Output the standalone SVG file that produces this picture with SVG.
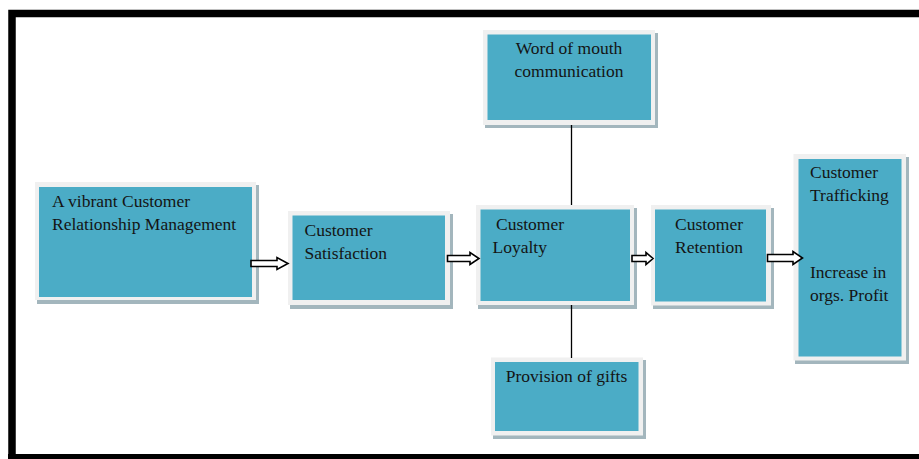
<svg xmlns="http://www.w3.org/2000/svg" width="919" height="459" viewBox="0 0 919 459">
<defs>
<style>
.sh{fill:#a3b6bd}
.bd{fill:#f0f0f0}
.in{fill:#4bacc6}
.t{font-family:'Liberation Serif','DejaVu Serif',serif;font-size:17.5px;fill:#141414}
.c{text-anchor:middle}
.arr{fill:#ffffff;stroke:#000000;stroke-width:1.6;stroke-linejoin:miter}
.ln{stroke:#000000;stroke-width:1.3;fill:none}
</style>
</defs>
<rect width="919" height="459" fill="#ffffff"/>
<g id="frame">
<path d="M12 459 V13.5 H919" fill="none" stroke="#000" stroke-width="7.5"/>
<path d="M8 456.5 H919" fill="none" stroke="#000" stroke-width="5"/>
</g>
<g id="crm">
<rect class="sh" x="37" y="185" width="222" height="119"/>
<rect class="bd" x="35" y="182" width="221" height="118"/>
<rect class="in" x="39" y="187" width="213" height="110"/>
<text class="t" x="52" y="207">A vibrant Customer</text>
<text class="t" x="52" y="229.5">Relationship Management</text>
</g>
<g id="satisfaction">
<rect class="sh" x="290" y="214" width="163" height="95"/>
<rect class="bd" x="288" y="211" width="162" height="94"/>
<rect class="in" x="292.5" y="215.5" width="152.5" height="84.5"/>
<text class="t" x="304.5" y="236">Customer</text>
<text class="t" x="304.5" y="258.5">Satisfaction</text>
</g>
<g id="loyalty">
<rect class="sh" x="478" y="208" width="159" height="101"/>
<rect class="bd" x="476" y="205" width="158" height="100"/>
<rect class="in" x="480.5" y="209.5" width="149.5" height="91.5"/>
<text class="t" x="496" y="230">Customer</text>
<text class="t" x="492.5" y="253">Loyalty</text>
</g>
<g id="word-of-mouth">
<rect class="sh" x="485" y="33" width="173" height="95"/>
<rect class="bd" x="483" y="30" width="172" height="95"/>
<rect class="in" x="487.5" y="34.5" width="163.5" height="85.5"/>
<text class="t c" x="569" y="53.5">Word of mouth</text>
<text class="t c" x="569" y="77">communication</text>
</g>
<g id="retention">
<rect class="sh" x="653" y="208" width="121" height="101"/>
<rect class="bd" x="651" y="205" width="120" height="100.5"/>
<rect class="in" x="655" y="209.5" width="111" height="92"/>
<text class="t" x="675" y="230">Customer</text>
<text class="t" x="675" y="253">Retention</text>
</g>
<g id="trafficking">
<rect class="sh" x="795" y="157" width="114" height="207"/>
<rect class="bd" x="793.5" y="154" width="112.5" height="206.5"/>
<rect class="in" x="798.5" y="159" width="103" height="197.5"/>
<text class="t" x="810" y="178">Customer</text>
<text class="t" x="810" y="200.5">Trafficking</text>
<text class="t" x="810" y="278">Increase in</text>
<text class="t" x="810" y="300.5">orgs. Profit</text>
</g>
<g id="gifts">
<rect class="sh" x="493" y="360" width="153" height="79"/>
<rect class="bd" x="491" y="357.5" width="152" height="78"/>
<rect class="in" x="495" y="362" width="143.5" height="69"/>
<text class="t c" x="566.5" y="382">Provision of gifts</text>
</g>
<g id="connectors">
<line class="ln" x1="571.5" y1="125" x2="571.5" y2="205"/>
<line class="ln" x1="571.5" y1="305" x2="571.5" y2="358"/>
<path class="arr" d="M251 260.5 H277 V257.5 L288 263.5 L277 269.5 V266.5 H251 Z"/>
<path class="arr" d="M447.5 255.5 H470 V252.5 L479 258.5 L470 264.5 V261.5 H447.5 Z"/>
<path class="arr" d="M632 255.5 H646 V252.5 L653 258.5 L646 264.5 V261.5 H632 Z"/>
<path class="arr" d="M767.5 254.5 H793 V251.5 L802.5 258 L793 264.5 V261.5 H767.5 Z"/>
</g>
</svg>
